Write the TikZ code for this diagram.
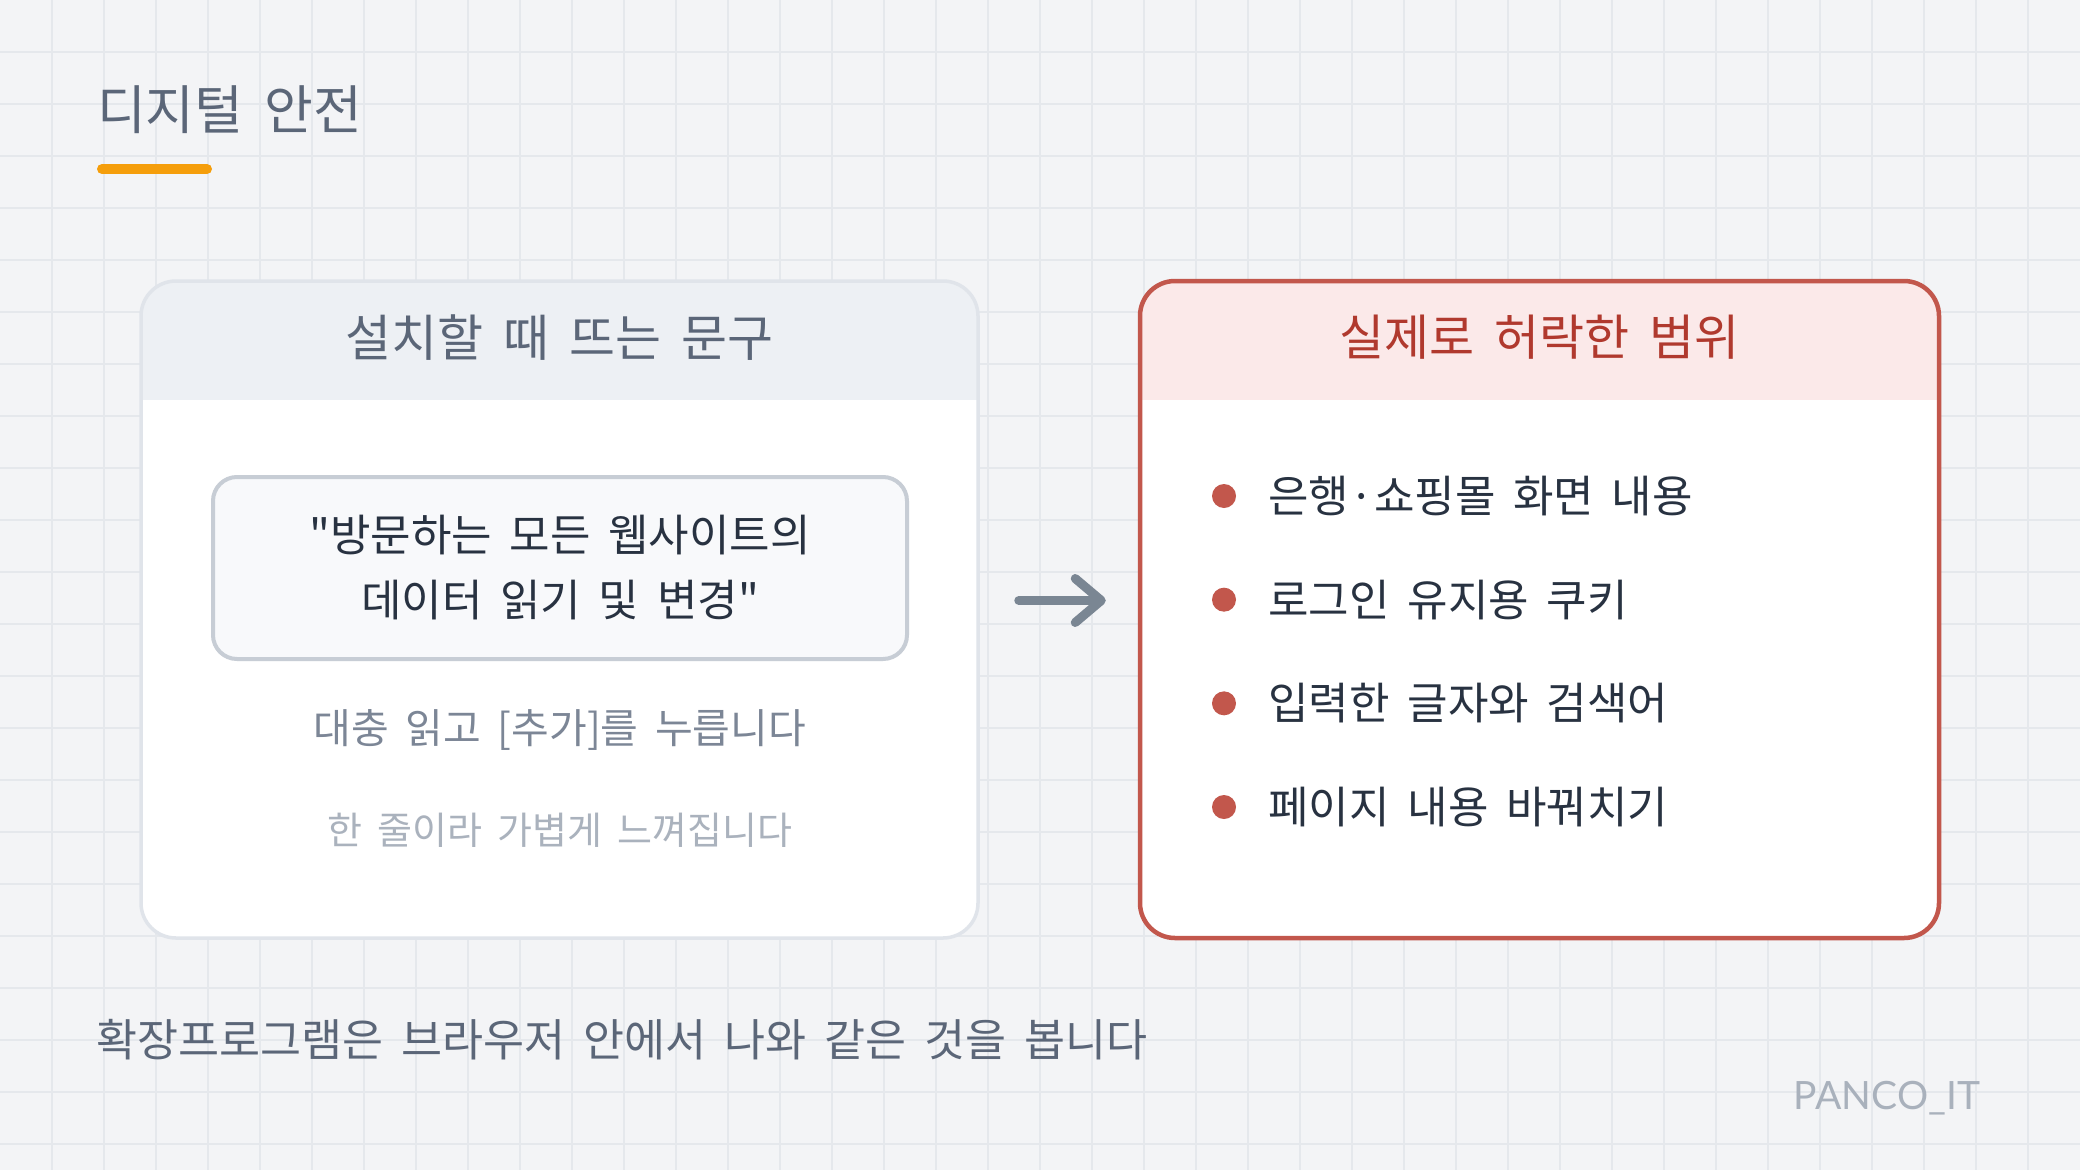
\documentclass[tikz,border=0pt]{standalone}
\usepackage{fontspec}
\newfontfamily\krfont[WordSpace=1.8]{Noto Sans CJK KR}
\newfontfamily\latfont{Lato}
\usetikzlibrary{arrows.meta,positioning,calc}

\definecolor{pagebg}{HTML}{F3F4F6}
\definecolor{gridc}{HTML}{E5E8EC}
\definecolor{slate}{HTML}{5B6678}
\definecolor{amber}{HTML}{F59E0B}
\definecolor{cardline}{HTML}{E0E4EA}
\definecolor{cardhead}{HTML}{EDF0F4}
\definecolor{quoteline}{HTML}{C7CDD5}
\definecolor{quotefill}{HTML}{F8F9FB}
\definecolor{ink}{HTML}{283241}
\definecolor{muted}{HTML}{7C8696}
\definecolor{faint}{HTML}{AAB2BD}
\definecolor{arrowc}{HTML}{7A8693}
\definecolor{alarm}{HTML}{C2574C}
\definecolor{alarmhead}{HTML}{FBE9E9}
\definecolor{alarmtext}{HTML}{B0392E}
\definecolor{brandc}{HTML}{A9B1BC}

\begin{document}
\begin{tikzpicture}[x=1pt,y=-1pt,
    card/.style={line width=3.5, rounded corners=35, fill=white, inner sep=0,
        minimum width=837, minimum height=657},
    headband/.style={path picture={\fill[#1, sharp corners] (path picture bounding box.north west)
        rectangle ([yshift=-119pt]path picture bounding box.north east);}},
    headtxt/.style={font=\krfont\fontsize{#1}{54}\selectfont},
    quotebox/.style={draw=quoteline, fill=quotefill, line width=4, rounded corners=24,
        minimum width=694, minimum height=182, align=center, text=ink,
        font=\krfont\fontsize{44}{65}\selectfont},
    note/.style={font=\krfont\fontsize{#1}{#1}\selectfont},
    dot/.style={circle, fill=alarm, minimum size=24, inner sep=0},
    item/.style={text=ink, inner sep=0, font=\krfont\fontsize{44}{50}\selectfont},
    flow/.style={draw=arrowc, line width=9, line cap=round,
        -{Straight Barb[length=26pt,width=44pt,round]}},
    gridline/.style={draw=gridc, line width=1.5}]

    % Page and grid
    \fill[pagebg] (0,0) rectangle (2080,1170);
    \useasboundingbox (0,0) rectangle (2080,1170);
    \foreach \gx in {52,104,...,2028} \draw[gridline] (\gx,0) -- (\gx,1170);
    \foreach \gy in {52,104,...,1144} \draw[gridline] (0,\gy) -- (2080,\gy);

    % Title
    \node[anchor=west, inner sep=0, text=slate, font=\krfont\fontsize{53}{60}\selectfont]
        (title) at (97,110) {디지털 안전};
    \draw[amber, line width=10, line cap=round] (102,169) -- (207,169);

    % Cards
    \node[card, draw=cardline, headband=cardhead] (lcard) at (559.5,609.5) {};
    \node[card, draw=alarm, line width=4.5, minimum width=799, headband=alarmhead]
        (rcard) at (1539.5,609.5) {};

    \node[headtxt=50, text=slate] (lhead) at ($(lcard.north)+(0,58)$) {설치할 때 뜨는 문구};
    \node[headtxt=49, text=alarmtext] (rhead) at ($(rcard.north)+(0,58)$) {실제로 허락한 범위};

    % Left card contents
    \node[quotebox] (quote) at (560,568) {"방문하는 모든 웹사이트의\\데이터 읽기 및 변경"};
    \node[note=41, text=muted] (skim) at (560,730) {대충 읽고 [추가]를 누릅니다};
    \node[note=38, text=faint] (light) at (560,830) {한 줄이라 가볍게 느껴집니다};

    % Right card list
    \foreach \txt [count=\i] in {은행·쇼핑몰 화면 내용, 로그인 유지용 쿠키,
                                 입력한 글자와 검색어, 페이지 내용 바꿔치기} {
        \node[dot] (dot\i) at (1224,{496+103.67*(\i-1)}) {};
        \node[item, right=32pt of dot\i] (item\i) {\txt};
    }

    % Arrow
    \draw[flow] ([xshift=39pt,yshift=9pt]lcard.east) -- ([xshift=-32pt,yshift=9pt]rcard.west);

    % Footer
    \node[anchor=west, inner sep=0, text=slate, font=\krfont\fontsize{44.6}{50}\selectfont]
        (foot) at (96,1040) {확장프로그램은 브라우저 안에서 나와 같은 것을 봅니다};
    \node[anchor=base, inner sep=0, text=brandc, font=\latfont\fontsize{39}{44}\selectfont]
        (brand) at (1887,1109) {PANCO\_IT};
\end{tikzpicture}
\end{document}
